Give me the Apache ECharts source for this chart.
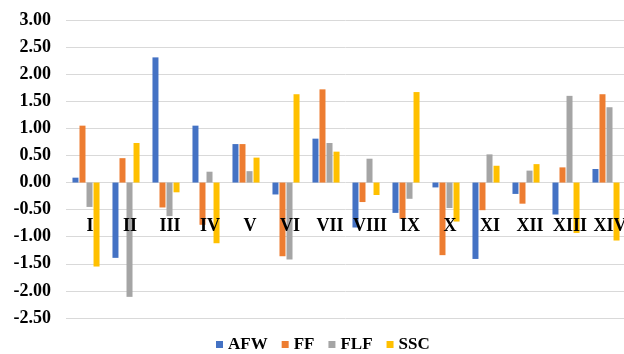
<!DOCTYPE html>
<html>
<head>
<meta charset="utf-8">
<script src="https://cdn.jsdelivr.net/npm/echarts@6/dist/echarts.min.js"></script>
<style>
html,body{margin:0;padding:0;background:#fff;}
#chart{width:624px;height:354px;}
</style>
</head>
<body>
<div id="chart"></div>
<script>
const categories = ['I','II','III','IV','V','VI','VII','VIII','IX','X','XI','XII','XIII','XIV'];
const seriesNames = ['AFW','FF','FLF','SSC'];
const AFW = [0.09, -1.39, 2.31, 1.05, 0.71, -0.22, 0.81, -0.83, -0.56, -0.09, -1.41, -0.21, -0.59, 0.25];
const FF  = [1.05, 0.45, -0.46, -0.78, 0.71, -1.36, 1.72, -0.36, -0.67, -1.34, -0.51, -0.39, 0.28, 1.63];
const FLF = [-0.45, -2.11, -0.62, 0.20, 0.21, -1.42, 0.73, 0.44, -0.30, -0.47, 0.52, 0.22, 1.60, 1.39];
const SSC = [-1.55, 0.73, -0.18, -1.12, 0.46, 1.63, 0.57, -0.23, 1.67, -0.72, 0.31, 0.34, -0.93, -1.07];
const colors = ['#4472C4','#ED7D31','#A5A5A5','#FFC000'];
const values = [AFW, FF, FLF, SSC];

const font = 'Liberation Serif';
const chart = echarts.init(document.getElementById('chart'));
chart.setOption({
  animation: false,
  grid: {left: 66, right: -2, top: 20, bottom: 36, containLabel: false, outerBoundsMode: 'none'},
  legend: {
    data: seriesNames,
    left: 211, top: 331,
    icon: 'rect', itemWidth: 7, itemHeight: 7, itemGap: 14,
    textStyle: {fontFamily: font, fontWeight: 'bold', fontSize: 17, color: '#000'}
  },
  xAxis: {
    type: 'category',
    data: categories,
    position: 'bottom',
    offset: -135.5,
    z: 10,
    axisLine: {onZero: false, show: false},
    axisTick: {show: false},
    axisLabel: {
      margin: 35, interval: 0, padding: [0,0,0,8],
      fontFamily: font, fontWeight: 'bold', fontSize: 18, color: '#000'
    },
    splitLine: {show: false}
  },
  yAxis: {
    type: 'value',
    min: -2.5, max: 3, interval: 0.5,
    axisLine: {show: false},
    axisTick: {show: false},
    axisLabel: {
      margin: 15,
      fontFamily: font, fontWeight: 'bold', fontSize: 18, color: '#000',
      formatter: v => v.toFixed(2)
    },
    splitLine: {lineStyle: {color: '#d9d9d9', width: 1}}
  },
  series: seriesNames.map((n, i) => ({
    name: n,
    type: 'bar',
    data: values[i],
    barWidth: 6,
    barGap: '17%',
    itemStyle: {color: colors[i]}
  }))
});
</script>
</body>
</html>
